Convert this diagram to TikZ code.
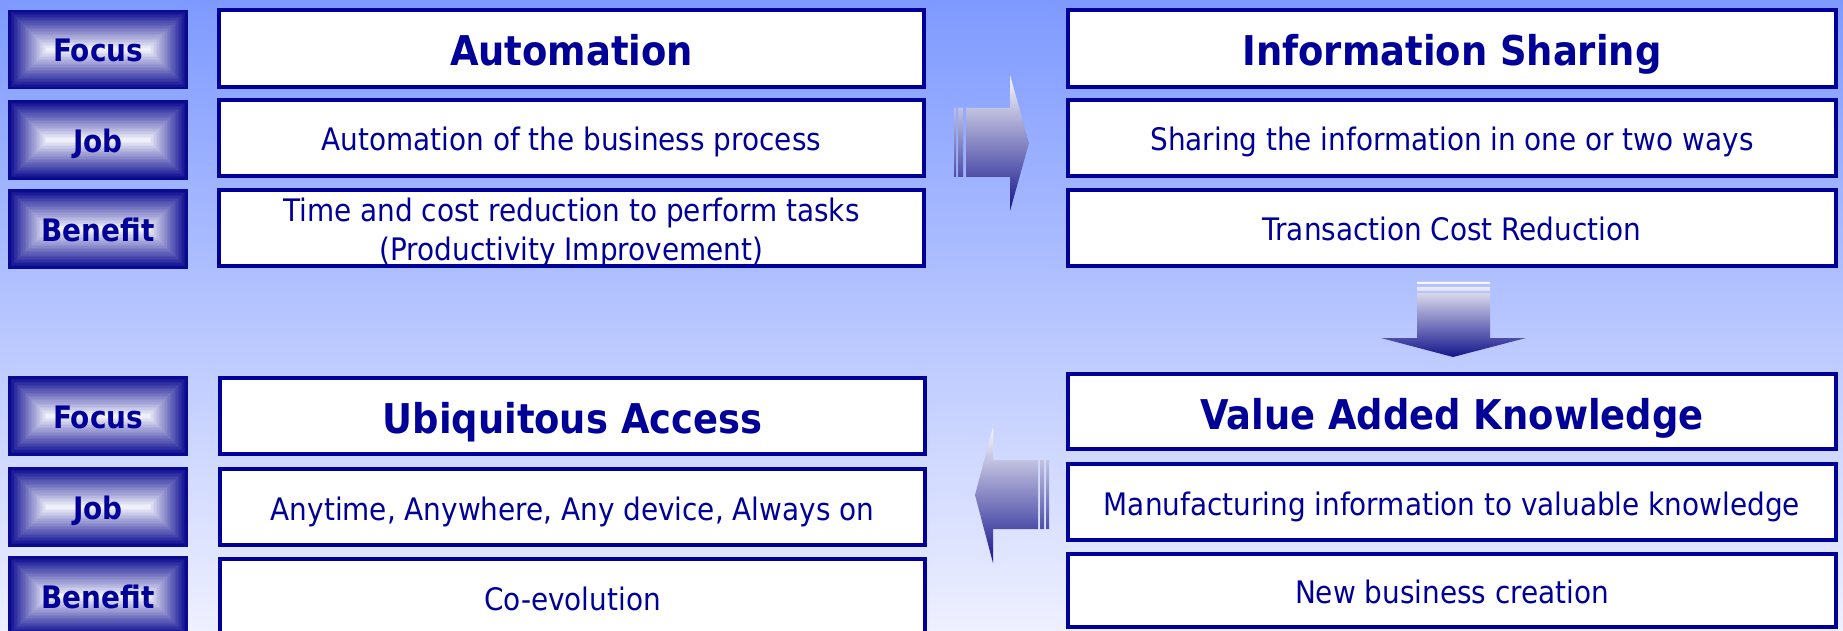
\documentclass[tikz,border=0pt]{standalone}
\usepackage{fontspec}
\setmainfont{DejaVu Sans Condensed}
\definecolor{navy}{RGB}{0,0,153}
\definecolor{lblEdge}{RGB}{10,10,145}
\definecolor{lblMid}{RGB}{240,240,250}
\definecolor{bgTop}{RGB}{126,154,255}
\definecolor{bgBot}{RGB}{238,240,255}
\definecolor{arTop}{RGB}{250,250,252}
\definecolor{arBot}{RGB}{20,20,140}
\tikzset{
  wbox/.style={draw=navy, line width=4pt, fill=white, rectangle, inner sep=0pt, text=navy, align=center},
  titletxt/.style={font=\bfseries\fontsize{41}{48}\selectfont, text height=38pt, text depth=3pt},
  bodytxt/.style={font=\fontsize{31}{38}\selectfont, text height=30pt, text depth=4pt},
  linetxt/.style={text=navy, font=\fontsize{31}{38}\selectfont, inner sep=0pt, anchor=base},
  lbltxt/.style={text=navy, font=\bfseries\fontsize{31}{37}\selectfont, inner sep=0pt, text height=28pt, text depth=3pt},
  blockarrow/.style={top color=arTop, bottom color=arBot, draw=none},
}
\newcommand\LabelBox[4]{%
  \foreach \lbI in {0,...,24}{%
    \pgfmathsetmacro\lbInset{\lbI*39/25}%
    \pgfmathsetmacro\lbPct{100*(1-\lbI/24)}%
    \fill[lblEdge!\lbPct!lblMid] ({#2-89+\lbInset},{#3-39+\lbInset}) rectangle ({#2+89-\lbInset},{#3+39-\lbInset});
  }
  \draw[lblEdge, line width=1.2pt] (#2-89,#3-39) rectangle (#2+89,#3+39);
  \node[lbltxt] (#1) at (#2,#3) {#4};
}
\begin{document}
\begin{tikzpicture}[x=1pt,y=1pt]
\useasboundingbox (0,0) rectangle (1843,630);
\shade[top color=bgTop, bottom color=bgBot] (0,0) rectangle (1843,630);

% label boxes
\LabelBox{lf1}{98}{580.5}{Focus}
\LabelBox{lj1}{98}{490}{Job}
\LabelBox{lb1}{98}{401}{Benefit}
\LabelBox{lf2}{98}{214}{Focus}
\LabelBox{lj2}{98}{123}{Job}
\LabelBox{lb2}{98}{34}{Benefit}

% stage 1
\node[wbox, titletxt, minimum width=705pt, minimum height=77pt] (autoT) at (571.5,581.5) {Automation};
\node[wbox, bodytxt, minimum width=705pt, minimum height=76pt] (autoJ) at (571.5,492) {Automation of the business process};
\node[wbox, minimum width=705pt, minimum height=76pt] (autoB) at (571.5,402) {};
\node[linetxt] (autoB1) at (571.5,408) {Time and cost reduction to perform tasks};
\node[linetxt] (autoB2) at (571.5,370) {(Productivity Improvement)};

% stage 2
\node[wbox, titletxt, minimum width=768pt, minimum height=77pt] (infoT) at (1452,581.5) {Information Sharing};
\node[wbox, bodytxt, minimum width=768pt, minimum height=76pt] (infoJ) at (1452,492) {Sharing the information in one or two ways};
\node[wbox, bodytxt, minimum width=768pt, minimum height=76pt] (infoB) at (1452,402) {Transaction Cost Reduction};

% stage 3
\node[wbox, titletxt, minimum width=768pt, minimum height=75pt] (valT) at (1452,218.5) {Value Added Knowledge};
\node[wbox, bodytxt, minimum width=768pt, minimum height=76pt] (valJ) at (1452,128) {Manufacturing information to valuable knowledge};
\node[wbox, bodytxt, minimum width=768pt, minimum height=73pt] (valB) at (1452,39.5) {New business creation};

% stage 4
\node[wbox, titletxt, minimum width=705pt, minimum height=76pt] (ubiT) at (572.5,214) {Ubiquitous Access};
\node[wbox, bodytxt, minimum width=705pt, minimum height=76pt] (ubiJ) at (572.5,123) {Anytime, Anywhere, Any device, Always on};
\node[wbox, bodytxt, minimum width=705pt, minimum height=76pt] (ubiB) at (572.5,33) {Co-evolution};

% block arrows
\shade[blockarrow] (954,522) rectangle (956,453) (958,522) rectangle (963,453)
  (966,522) -- (1010,522) -- (1010,555) -- (1029,487) -- (1010,419) -- (1010,453) -- (966,453) -- cycle;
\shade[blockarrow] (1417,348) rectangle (1490,346) (1417,343) rectangle (1490,339)
  (1417,337) -- (1490,337) -- (1490,292) -- (1526,292) -- (1453,273) -- (1381,292) -- (1417,292) -- cycle;
\shade[blockarrow] (975,135) -- (993,203) -- (993,170) -- (1038,170) -- (1038,101) -- (993,101) -- (993,67) -- cycle
  (1040,170) rectangle (1044,101) (1046,170) rectangle (1049,101);
\end{tikzpicture}
\end{document}
